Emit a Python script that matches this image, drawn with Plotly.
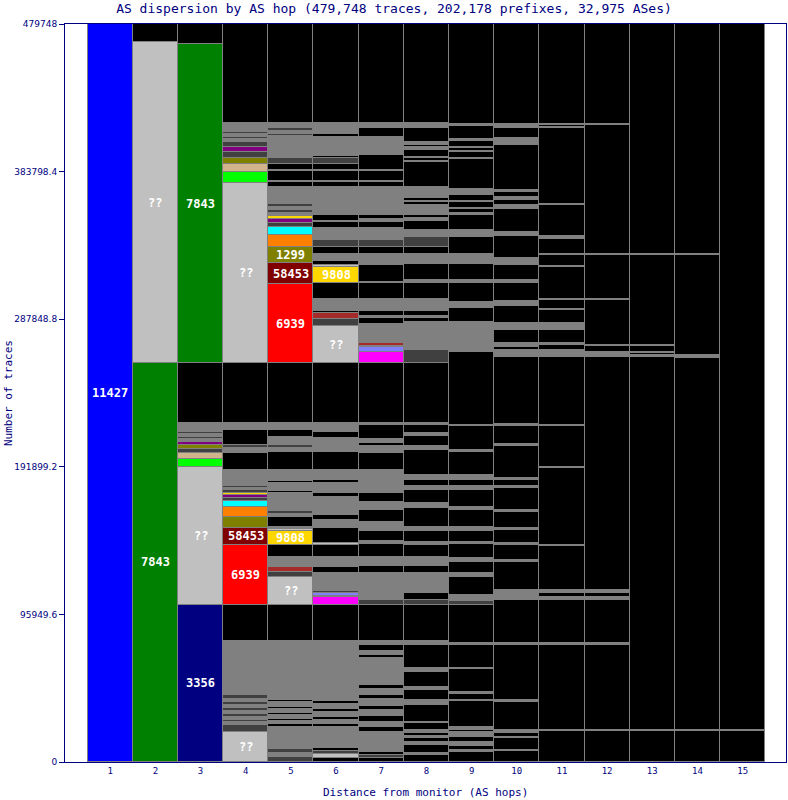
import plotly.graph_objects as go

TOTAL_TRACES = 479748
HOPS = list(range(1, 16))
Y_TICKS = [0, 95949.6, 191899.2, 287848.8, 383798.4, 479748]
Y_TICK_TEXT = ["0", "95949.6", "191899.2", "287848.8", "383798.4", "479748"]

# Each hop: (cumulative traces in thousands at top of segment, AS category), bottom-up.
# 'end' = traces that stop here (left black), 'oth' = other small ASes, 'mix' = misc.
HOP1 = [(479.748, "11427")]
HOP2 = [(259.4, "7843"), (468.0, "??"), (479.748, "end")]
HOP3 = [(102.1, "3356"), (191.8, "??"), (197.0, "lime"), (200.9, "tan"), (203.5, "mix"),
        (206.1, "1299"), (208.0, "purple"), (210.0, "oth"), (211.3, "mix"), (213.2, "oth"),
        (214.5, "mix"), (220.4, "oth"), (259.4, "end"), (466.7, "7843"), (479.748, "end")]
HOP4 = [(19.5, "??"), (24.1, "mix"), (26.0, "oth"), (27.3, "mix"), (29.3, "oth"), (31.2, "mix"),
        (33.2, "oth"), (35.1, "mix"), (37.1, "oth"), (39.0, "mix"), (41.0, "oth"), (43.6, "mix"),
        (78.7, "oth"), (102.1, "end"), (141.1, "6939"), (152.1, "58453"), (159.3, "1299"),
        (165.8, "orange"), (169.7, "cyan"), (171.6, "mix"), (173.6, "purple"), (174.9, "9808"),
        (176.8, "mix"), (178.1, "oth"), (179.4, "mix"), (189.8, "oth"), (200.9, "end"),
        (204.1, "oth"), (206.1, "mix"), (215.8, "end"), (220.4, "oth"), (259.4, "end"),
        (376.4, "??"), (383.5, "lime"), (388.7, "tan"), (392.6, "1299"), (396.5, "mix"),
        (399.8, "purple"), (403.0, "mix"), (405.0, "oth"), (406.3, "mix"), (408.2, "oth"),
        (409.5, "mix"), (415.4, "oth"), (479.748, "end")]
HOP5 = [(3.3, "mix"), (5.9, "oth"), (8.5, "mix"), (9.1, "peri"), (22.8, "oth"), (24.7, "end"),
        (26.7, "oth"), (28.0, "end"), (30.6, "oth"), (31.9, "end"), (34.5, "oth"), (35.8, "end"),
        (39.0, "oth"), (40.3, "end"), (78.7, "oth"), (102.1, "end"), (120.3, "??"), (123.5, "mix"),
        (126.8, "brown"), (133.3, "oth"), (141.1, "end"), (150.2, "9808"), (151.5, "??"),
        (152.8, "oth"), (159.3, "end"), (161.2, "oth"), (163.2, "mix"), (174.9, "oth"),
        (176.2, "end"), (181.4, "oth"), (182.7, "end"), (189.8, "oth"), (201.5, "end"),
        (204.1, "oth"), (206.1, "mix"), (211.3, "oth"), (215.8, "end"), (220.4, "oth"),
        (259.4, "end"), (310.7, "6939"), (324.4, "58453"), (334.8, "1299"), (342.6, "orange"),
        (347.8, "cyan"), (350.4, "mix"), (353.0, "purple"), (354.9, "9808"), (356.9, "oth"),
        (358.8, "mix"), (360.8, "oth"), (362.7, "mix"), (373.8, "oth"), (377.0, "end"),
        (377.7, "oth"), (384.2, "end"), (384.8, "oth"), (388.7, "end"), (392.6, "mix"),
        (406.9, "oth"), (408.2, "mix"), (410.2, "oth"), (412.1, "mix"), (415.4, "oth"),
        (479.748, "end")]
HOP6 = [(2.6, "end"), (5.2, "??"), (7.2, "mix"), (9.1, "end"), (22.8, "oth"), (24.7, "end"),
        (27.3, "oth"), (29.3, "end"), (32.5, "oth"), (34.5, "end"), (37.7, "oth"), (39.7, "end"),
        (51.4, "oth"), (52.0, "end"), (78.7, "oth"), (102.1, "end"), (107.3, "magenta"),
        (107.9, "end"), (109.9, "peri"), (111.2, "mix"), (122.9, "oth"), (126.8, "end"),
        (133.3, "oth"), (141.1, "end"), (142.4, "??"), (152.1, "end"), (157.3, "oth"),
        (160.6, "end"), (172.3, "oth"), (174.9, "end"), (181.4, "oth"), (183.3, "end"),
        (189.8, "oth"), (201.5, "end"), (210.6, "oth"), (214.5, "end"), (220.4, "oth"),
        (259.4, "end"), (283.4, "??"), (288.0, "mix"), (291.9, "brown"), (293.2, "end"),
        (301.0, "oth"), (311.4, "end"), (321.8, "9808"), (323.1, "??"), (325.7, "end"),
        (326.3, "??"), (330.2, "oth"), (334.8, "end"), (339.3, "mix"), (340.6, "oth"),
        (341.3, "??"), (347.1, "oth"), (351.0, "end"), (351.7, "??"), (355.6, "end"),
        (373.8, "oth"), (377.0, "end"), (377.7, "oth"), (384.2, "end"), (384.8, "oth"),
        (388.7, "end"), (392.6, "mix"), (393.9, "end"), (406.3, "oth"), (408.2, "end"),
        (415.4, "oth"), (479.748, "end")]
HOP7 = [(2.6, "end"), (4.6, "mix"), (6.5, "end"), (19.5, "oth"), (22.8, "end"), (26.0, "oth"),
        (29.9, "end"), (33.8, "oth"), (36.4, "end"), (41.0, "oth"), (43.6, "end"), (47.5, "oth"),
        (50.1, "end"), (67.6, "oth"), (69.6, "end"), (72.2, "oth"), (76.1, "end"), (78.7, "oth"),
        (102.1, "end"), (105.3, "mix"), (122.9, "oth"), (127.4, "end"), (133.3, "oth"),
        (141.7, "end"), (143.7, "oth"), (150.2, "end"), (156.0, "oth"), (163.8, "end"),
        (169.0, "oth"), (174.9, "end"), (189.8, "oth"), (200.9, "end"), (205.4, "oth"),
        (207.4, "end"), (210.0, "oth"), (219.1, "end"), (220.4, "oth"), (259.4, "end"),
        (266.5, "magenta"), (269.8, "peri"), (270.4, "end"), (272.4, "brown"), (284.1, "oth"),
        (284.7, "??"), (288.6, "end"), (289.9, "oth"), (293.2, "end"), (301.0, "oth"),
        (311.4, "end"), (312.0, "??"), (323.1, "end"), (323.7, "9808"), (327.0, "oth"),
        (327.6, "end"), (330.2, "oth"), (334.8, "end"), (339.3, "mix"), (347.1, "oth"),
        (351.0, "end"), (353.0, "oth"), (355.6, "end"), (362.1, "oth"), (362.7, "end"),
        (373.8, "oth"), (377.0, "end"), (377.7, "oth"), (384.2, "end"), (384.8, "oth"),
        (394.6, "end"), (406.3, "oth"), (412.1, "end"), (415.4, "oth"), (479.748, "end")]
HOP8 = [(4.6, "end"), (5.9, "oth"), (11.1, "end"), (13.0, "oth"), (15.6, "end"), (16.9, "oth"),
        (18.9, "end"), (20.8, "oth"), (25.4, "end"), (26.0, "oth"), (37.1, "end"), (40.3, "oth"),
        (46.8, "end"), (48.8, "oth"), (58.5, "end"), (61.1, "oth"), (76.1, "end"), (78.7, "oth"),
        (102.1, "end"), (105.3, "mix"), (109.9, "end"), (122.9, "oth"), (127.4, "end"),
        (133.3, "oth"), (141.1, "end"), (143.0, "oth"), (150.2, "end"), (152.8, "oth"),
        (165.1, "end"), (168.4, "oth"), (176.8, "end"), (179.4, "oth"), (183.3, "end"),
        (186.6, "oth"), (202.8, "end"), (205.4, "oth"), (211.9, "end"), (213.9, "oth"),
        (219.1, "end"), (220.4, "oth"), (259.4, "end"), (267.8, "mix"), (286.0, "oth"),
        (288.6, "end"), (289.9, "oth"), (293.2, "end"), (301.0, "oth"), (311.4, "end"),
        (313.3, "oth"), (323.7, "end"), (330.2, "oth"), (334.8, "end"), (341.3, "mix"),
        (345.8, "oth"), (351.7, "end"), (353.6, "oth"), (355.6, "end"), (362.1, "oth"),
        (364.0, "end"), (364.7, "oth"), (366.6, "end"), (373.8, "oth"), (390.0, "end"),
        (390.7, "oth"), (392.6, "end"), (393.3, "oth"), (397.8, "end"), (399.8, "oth"),
        (401.1, "end"), (403.0, "oth"), (412.1, "end"), (415.4, "oth"), (479.748, "end")]
HOP9 = [(6.5, "end"), (7.8, "oth"), (10.4, "end"), (13.0, "oth"), (16.3, "end"), (19.5, "oth"),
        (20.8, "end"), (22.8, "oth"), (39.7, "end"), (40.3, "oth"), (44.2, "end"), (45.5, "oth"),
        (60.5, "end"), (61.1, "oth"), (76.1, "end"), (77.4, "oth"), (102.1, "end"), (104.7, "mix"),
        (105.3, "end"), (108.6, "oth"), (120.3, "end"), (122.9, "oth"), (130.0, "end"),
        (132.6, "oth"), (141.7, "end"), (143.0, "oth"), (150.2, "end"), (152.8, "oth"),
        (163.8, "end"), (165.8, "oth"), (176.8, "end"), (179.4, "oth"), (183.3, "end"),
        (186.6, "oth"), (201.5, "end"), (202.8, "oth"), (218.4, "end"), (219.1, "oth"),
        (266.5, "end"), (286.0, "oth"), (295.1, "end"), (299.0, "oth"), (311.4, "end"),
        (313.3, "oth"), (323.7, "end"), (330.2, "oth"), (341.3, "end"), (345.8, "oth"),
        (355.6, "end"), (356.9, "oth"), (359.5, "end"), (360.1, "oth"), (364.0, "end"),
        (364.7, "oth"), (368.6, "end"), (372.5, "oth"), (392.0, "end"), (392.6, "oth"),
        (396.5, "end"), (397.2, "oth"), (399.1, "end"), (399.8, "oth"), (403.7, "end"),
        (405.0, "oth"), (413.4, "end"), (414.7, "oth"), (479.748, "end")]
HOP10 = [(7.2, "end"), (7.8, "oth"), (15.6, "end"), (16.3, "oth"), (18.9, "end"), (20.8, "oth"),
         (39.0, "end"), (40.3, "oth"), (76.1, "end"), (77.4, "oth"), (105.3, "end"), (111.8, "oth"),
         (130.0, "end"), (131.3, "oth"), (141.1, "end"), (142.4, "oth"), (150.8, "end"),
         (152.1, "oth"), (162.5, "end"), (163.8, "oth"), (178.1, "end"), (179.4, "oth"),
         (183.3, "end"), (184.6, "oth"), (205.4, "end"), (206.7, "oth"), (218.4, "end"),
         (219.7, "oth"), (263.3, "end"), (267.8, "oth"), (269.8, "end"), (272.4, "oth"),
         (280.8, "end"), (285.4, "oth"), (296.4, "end"), (299.7, "oth"), (311.4, "end"),
         (313.3, "oth"), (323.1, "end"), (327.6, "oth"), (341.9, "end"), (344.5, "oth"),
         (359.5, "end"), (362.1, "oth"), (365.3, "end"), (367.3, "oth"), (370.5, "end"),
         (371.8, "oth"), (401.1, "end"), (405.6, "oth"), (412.1, "end"), (414.7, "oth"),
         (479.748, "end")]
HOP11 = [(20.2, "end"), (20.8, "oth"), (76.1, "end"), (77.4, "oth"), (105.3, "end"), (107.3, "oth"),
         (109.9, "end"), (111.8, "oth"), (140.4, "end"), (141.1, "oth"), (191.1, "end"),
         (191.8, "oth"), (218.4, "end"), (219.1, "oth"), (263.3, "end"), (267.8, "oth"),
         (271.1, "end"), (272.4, "oth"), (280.8, "end"), (285.4, "oth"), (293.8, "end"),
         (294.5, "oth"), (300.3, "end"), (301.0, "oth"), (321.8, "end"), (322.4, "oth"),
         (329.6, "end"), (330.2, "oth"), (340.0, "end"), (341.9, "oth"), (362.1, "end"),
         (362.7, "oth"), (412.1, "end"), (412.8, "oth"), (414.1, "end"), (414.7, "oth"),
         (479.748, "end")]
HOP12 = [(20.2, "end"), (20.8, "oth"), (76.1, "end"), (77.4, "oth"), (105.3, "end"), (107.3, "oth"),
         (109.9, "end"), (111.8, "oth"), (263.3, "end"), (266.5, "oth"), (270.4, "end"),
         (271.1, "oth"), (300.3, "end"), (301.0, "oth"), (329.6, "end"), (330.2, "oth"),
         (414.1, "end"), (414.7, "oth"), (479.748, "end")]
HOP13 = [(20.2, "end"), (20.8, "oth"), (263.3, "end"), (264.6, "oth"), (265.9, "end"), (266.5, "oth"),
         (270.4, "end"), (271.1, "oth"), (329.6, "end"), (330.2, "oth"), (479.748, "end")]
HOP14 = [(20.2, "end"), (20.8, "oth"), (262.6, "end"), (263.3, "oth"), (263.9, "end"), (264.6, "oth"),
         (329.6, "end"), (330.2, "oth"), (479.748, "end")]
HOP15 = [(20.2, "end"), (20.8, "oth"), (479.748, "end")]

HOP_SEGMENTS = [HOP1, HOP2, HOP3, HOP4, HOP5, HOP6, HOP7, HOP8, HOP9, HOP10,
                HOP11, HOP12, HOP13, HOP14, HOP15]

LABELLED = {"11427", "7843", "3356", "6939", "58453", "1299", "9808", "??"}

COLORS = {
    "11427": "#0000ff", "7843": "#008000", "3356": "#000080", "6939": "#ff0000",
    "58453": "#800000", "1299": "#808000", "9808": "#ffd700", "??": "#c0c0c0",
    "oth": "#808080", "mix": "#404040", "lime": "#00ff00", "tan": "#d2b48c",
    "purple": "#800080", "cyan": "#00ffff", "orange": "#ff8000", "brown": "#a52a2a",
    "peri": "#8080ff", "magenta": "#ff00ff",
}
NAVY = "#000080"
EDGE = "#808080"

fig = go.Figure()

# black column backgrounds (traces that have ended)
fig.add_trace(go.Bar(
    x=HOPS, y=[TOTAL_TRACES] * len(HOPS), base=[0] * len(HOPS), width=1,
    marker=dict(color="#000000", line=dict(color=EDGE, width=1)),
    hoverinfo="skip", showlegend=False,
))

xs, bases, heights, cols = [], [], [], []
annotations = []
for hop, segs in zip(HOPS, HOP_SEGMENTS):
    bottom = 0.0
    for top_k, asn in segs:
        top = min(top_k * 1000, TOTAL_TRACES)
        if asn != "end":
            xs.append(hop)
            bases.append(bottom)
            heights.append(top - bottom)
            cols.append(COLORS[asn])
            if asn in LABELLED and (top - bottom) >= 8000:
                annotations.append(dict(
                    x=hop, y=(top + bottom) / 2, xref="x", yref="y",
                    text="<b>%s</b>" % asn, showarrow=False,
                    font=dict(family="DejaVu Sans Mono", size=12, color="#ffffff"),
                ))
        bottom = top

fig.add_trace(go.Bar(
    x=xs, y=heights, base=bases, width=1,
    marker=dict(color=cols, line=dict(color=EDGE, width=1)),
    hoverinfo="skip", showlegend=False,
))

annotations.append(dict(
    text="Number of traces", xref="paper", yref="paper", x=-0.079, y=0.5,
    textangle=-90, showarrow=False, xanchor="center", yanchor="middle",
    font=dict(family="DejaVu Sans Mono", size=11, color=NAVY),
))
annotations.append(dict(
    text="Distance from monitor (AS hops)", xref="paper", yref="paper", x=0.5, y=-0.042,
    showarrow=False, xanchor="center", yanchor="middle",
    font=dict(family="DejaVu Sans Mono", size=11, color=NAVY),
))

fig.update_layout(
    width=788, height=800,
    margin=dict(l=65, r=2, t=24, b=38),
    paper_bgcolor="#ffffff", plot_bgcolor="#ffffff",
    barmode="overlay", bargap=0,
    title=dict(
        text="AS dispersion by AS hop (479,748 traces, 202,178 prefixes, 32,975 ASes)",
        x=0.5, xanchor="center", y=0.99, yanchor="middle", yref="container",
        font=dict(family="DejaVu Sans Mono", size=13, color=NAVY),
    ),
    xaxis=dict(
        range=[0, 15.96], tickvals=HOPS, ticktext=[str(h) for h in HOPS],
        showgrid=False, zeroline=False, showline=True, mirror=True,
        linecolor=NAVY, linewidth=1, ticks="",
        tickfont=dict(family="DejaVu Sans Mono", size=9, color=NAVY),
    ),
    yaxis=dict(
        range=[0, TOTAL_TRACES], tickvals=Y_TICKS, ticktext=Y_TICK_TEXT,
        showgrid=False, zeroline=False, showline=True, mirror=True,
        linecolor=NAVY, linewidth=1, ticks="outside", ticklen=5, tickcolor=NAVY,
        tickfont=dict(family="DejaVu Sans", size=9, color=NAVY),
    ),
    annotations=annotations,
)

fig.write_html("out.html")
